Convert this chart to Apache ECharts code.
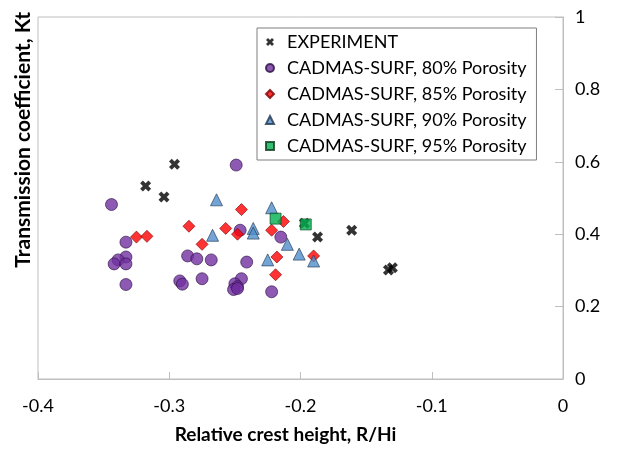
<!DOCTYPE html>
<html>
<head>
<meta charset="utf-8">
<script src="https://cdn.jsdelivr.net/npm/echarts@6/dist/echarts.min.js"></script>
<style>
  html, body { margin: 0; padding: 0; background: #fff; }
  #main { width: 629px; height: 449px; }
</style>
</head>
<body>
<div id="main"></div>
<script>
// values: [R/Hi, Kt]
var experiment = [[-0.318, 0.533], [-0.296, 0.593], [-0.304, 0.503], [-0.197, 0.430],
    [-0.187, 0.392], [-0.161, 0.411], [-0.133, 0.301], [-0.130, 0.307]];
var por80 = [[-0.344, 0.482], [-0.333, 0.378], [-0.333, 0.337], [-0.339, 0.329],
    [-0.342, 0.318], [-0.333, 0.318], [-0.333, 0.261], [-0.286, 0.340],
    [-0.279, 0.332], [-0.275, 0.277], [-0.292, 0.271], [-0.290, 0.262],
    [-0.249, 0.591], [-0.246, 0.411], [-0.215, 0.392], [-0.268, 0.329],
    [-0.241, 0.323], [-0.245, 0.277], [-0.250, 0.263], [-0.248, 0.255],
    [-0.251, 0.247], [-0.248, 0.250], [-0.222, 0.241]];
var por85 = [[-0.325, 0.392], [-0.317, 0.394], [-0.285, 0.422], [-0.275, 0.372],
    [-0.245, 0.468], [-0.257, 0.416], [-0.248, 0.400], [-0.222, 0.411],
    [-0.213, 0.435], [-0.218, 0.337], [-0.219, 0.288], [-0.190, 0.340]];
var por90 = [[-0.264, 0.495], [-0.222, 0.473], [-0.267, 0.397], [-0.236, 0.416],
    [-0.236, 0.403], [-0.210, 0.372], [-0.201, 0.345], [-0.225, 0.329],
    [-0.190, 0.326]];
var por95 = [[-0.219, 0.443], [-0.196, 0.427]];

var seriesNames = ['EXPERIMENT', 'CADMAS-SURF, 80% Porosity', 'CADMAS-SURF, 85% Porosity',
    'CADMAS-SURF, 90% Porosity', 'CADMAS-SURF, 95% Porosity'];

// bold x marker like excel's
var crossPath = 'path://M0,3 L3,0 L6,3 L9,0 L12,3 L9,6 L12,9 L9,12 L6,9 L3,12 L0,9 L3,6 Z';
var font = 'Lato, "Open Sans", sans-serif';
var axisGrey = '#BFBFBF';

var myChart = echarts.init(document.getElementById('main'));
var option = {
    animation: false,
    backgroundColor: '#fff',
    textStyle: {fontFamily: font},
    grid: {
        left: 38,
        right: 66,
        top: 17,
        bottom: 65,
        show: true,
        borderColor: axisGrey,
        borderWidth: 1
    },
    legend: {
        orient: 'vertical',
        left: 257,
        top: 28,
        padding: [5, 10, 5, 8],
        itemWidth: 8,
        itemHeight: 8,
        itemGap: 8,
        backgroundColor: '#fff',
        borderColor: '#7F7F7F',
        borderWidth: 1,
        borderRadius: 0,
        textStyle: {fontSize: 18, color: '#000', lineHeight: 18, padding: [0, 0, 0, 8]},
        data: seriesNames
    },
    xAxis: {
        type: 'value',
        min: -0.4,
        max: 0,
        interval: 0.1,
        name: 'Relative crest height, R/Hi',
        nameLocation: 'middle',
        nameGap: 46,
        nameTextStyle: {fontSize: 19, fontWeight: 'bold', color: '#000', padding: [0, 30, 0, 0]},
        axisLine: {lineStyle: {color: axisGrey}},
        axisTick: {inside: true, length: 7, lineStyle: {color: axisGrey}},
        axisLabel: {fontSize: 18, color: '#000', margin: 18},
        splitLine: {show: false}
    },
    yAxis: {
        type: 'value',
        position: 'right',
        min: 0,
        max: 1,
        interval: 0.2,
        axisLine: {show: true, lineStyle: {color: axisGrey}},
        axisTick: {show: true, inside: true, length: 8, lineStyle: {color: axisGrey}},
        axisLabel: {fontSize: 18, color: '#000', margin: 12},
        splitLine: {show: false}
    },
    graphic: [{
        type: 'text',
        left: 13,
        top: 12,
        rotation: Math.PI / 2,
        style: {
            text: 'Transmission coefficient, Kt',
            font: 'bold 21px ' + font,
            fill: '#000'
        }
    }],
    series: [
        {
            name: seriesNames[0], type: 'scatter', data: experiment,
            symbol: crossPath, symbolSize: 11,
            itemStyle: {color: '#000'}
        },
        {
            name: seriesNames[1], type: 'scatter', data: por80,
            symbol: 'circle', symbolSize: 12,
            itemStyle: {color: '#7030A0', borderColor: '#2a1040', borderWidth: 0.8}
        },
        {
            name: seriesNames[2], type: 'scatter', data: por85,
            symbol: 'diamond', symbolSize: 12,
            itemStyle: {color: '#FF0000', borderColor: '#7a0000', borderWidth: 0.8}
        },
        {
            name: seriesNames[3], type: 'scatter', data: por90,
            symbol: 'triangle', symbolSize: 12,
            itemStyle: {color: '#4F8FCC', borderColor: '#1f3550', borderWidth: 0.8}
        },
        {
            name: seriesNames[4], type: 'scatter', data: por95,
            symbol: 'rect', symbolSize: 11,
            itemStyle: {color: '#00B050', borderColor: '#0a3a1a', borderWidth: 0.8}
        }
    ]
};
myChart.setOption(option, true);
</script>
</body>
</html>
